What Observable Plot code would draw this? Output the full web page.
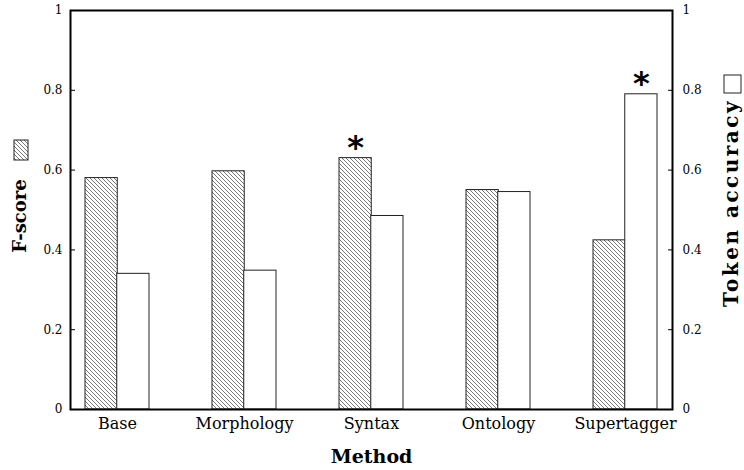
<!DOCTYPE html>
<html><head><meta charset="utf-8">
<script src="https://cdn.jsdelivr.net/npm/d3@7"></script>
<script src="https://cdn.jsdelivr.net/npm/@observablehq/plot@0.6"></script>
<style>body{margin:0;background:#fff} #chart{width:744px;height:470px}</style>
</head><body><div id="chart"></div>
<script>
const methods = ["Base", "Morphology", "Syntax", "Ontology", "Supertagger"];
const fscore = [0.58, 0.597, 0.63, 0.55, 0.424];
const tokenAcc = [0.34, 0.348, 0.485, 0.545, 0.79];
const yTicks = [0, 0.2, 0.4, 0.6, 0.8, 1];
const yTickLabels = ["0", "0.2", "0.4", "0.6", "0.8", "1"];
const starFscore = ["Syntax"];
const starToken = ["Supertagger"];

const fData = methods.map((m, i) => ({method: m, value: fscore[i]}));
const tData = methods.map((m, i) => ({method: m, value: tokenAcc[i]}));
const fStars = fData.filter(d => starFscore.includes(d.method));
const tStars = tData.filter(d => starToken.includes(d.method));

const W = 744, H = 470, mL = 70, mR = 72, mT = 10, mB = 61;
const pInner = 0.5, pOuter = 0.12;
const step = (W - mL - mR) / (methods.length - pInner + 2 * pOuter);
const half = step * (1 - pInner) / 2;
const fmt = d => yTickLabels[yTicks.indexOf(d)];
const serif = "DejaVu Serif";

const plot = Plot.plot({
  width: W, height: H,
  marginLeft: mL, marginRight: mR, marginTop: mT, marginBottom: mB,
  style: {fontFamily: serif, background: "white", color: "black"},
  x: {domain: methods, paddingInner: pInner, paddingOuter: pOuter, label: null},
  y: {domain: [0, 1], label: null},
  marks: [
    Plot.barY(fData, {x: "method", y: "value", fill: "url(#hatch)", stroke: "#222", strokeWidth: 1, insetRight: half}),
    Plot.barY(tData, {x: "method", y: "value", fill: "white", stroke: "#222", strokeWidth: 1, insetLeft: half}),
    Plot.text(fStars, {x: "method", y: "value", text: () => "*", dx: -half / 2, dy: 0, lineAnchor: "bottom", fontSize: 32, fontWeight: "bold", fontFamily: "DejaVu Sans"}),
    Plot.text(tStars, {x: "method", y: "value", text: () => "*", dx: half / 2, dy: 0, lineAnchor: "bottom", fontSize: 32, fontWeight: "bold", fontFamily: "DejaVu Sans"}),
    Plot.axisY({anchor: "left", ticks: yTicks, tickFormat: fmt, tickSize: -5, tickPadding: 13, fontSize: 12, fontFamily: serif, label: null}),
    Plot.axisY({anchor: "right", ticks: yTicks, tickFormat: fmt, tickSize: -5, tickPadding: 15, fontSize: 12, fontFamily: serif, label: null}),
    Plot.axisX({anchor: "bottom", tickSize: 0, tickPadding: 8, fontSize: 16, fontFamily: serif, label: null}),
    Plot.frame({stroke: "black", strokeWidth: 2}),
    Plot.text(["Method"], {frameAnchor: "bottom", dy: 53, lineAnchor: "bottom", textAnchor: "middle", fontWeight: "bold", fontSize: 19}),
    Plot.text(["F-score"], {frameAnchor: "left", rotate: -90, dx: -50, dy: 6, textAnchor: "middle", fontWeight: "bold", fontSize: 18}),
    Plot.text(["Token accuracy"], {frameAnchor: "right", rotate: -90, dx: 59, dy: -7, textAnchor: "middle", fontWeight: "bold", fontSize: 20, className: "right-title"})
  ]
});

const svg = d3.select(plot);
svg.selectAll(".right-title text").style("letter-spacing", "2.5px");
const defs = svg.insert("defs", ":first-child");
const pat = defs.append("pattern").attr("id", "hatch").attr("patternUnits", "userSpaceOnUse")
  .attr("width", 4).attr("height", 4);
pat.append("rect").attr("width", 4).attr("height", 4).attr("fill", "white");
pat.append("path").attr("d", "M-1,-1L5,5M-1,3L1,5M3,-1L5,1").attr("stroke", "#777").attr("stroke-width", 1);

// legend swatches beside the two axis titles
svg.append("rect").attr("x", 14).attr("y", 140).attr("width", 14).attr("height", 20)
  .attr("fill", "url(#hatch)").attr("stroke", "#222");
svg.append("rect").attr("x", 724).attr("y", 75).attr("width", 17).attr("height", 18)
  .attr("fill", "white").attr("stroke", "#222");

document.getElementById("chart").appendChild(plot);
</script>
</body></html>
